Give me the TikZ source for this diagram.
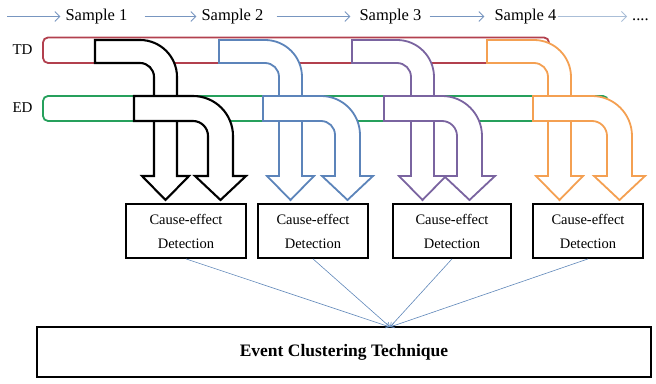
\documentclass[tikz,border=0pt]{standalone}
\usepackage{fontspec}
\setmainfont{Liberation Serif}
\usetikzlibrary{arrows.meta}
\definecolor{tdred}{RGB}{178,64,78}
\definecolor{edgreen}{RGB}{38,160,92}
\definecolor{ablue}{RGB}{92,132,186}
\definecolor{apurple}{RGB}{122,100,160}
\definecolor{aorange}{RGB}{244,160,82}
\definecolor{flowblue}{RGB}{120,150,192}
\definecolor{flowfaint}{RGB}{170,190,215}
\definecolor{linkblue}{RGB}{95,135,185}
\newcommand{\BentArrow}[8]{%
  \pgfmathsetmacro{\BAR}{#6+#3-#4}%
  \pgfmathsetmacro{\BAi}{#5+#6}%
  \pgfmathsetmacro{\BAo}{#5+\BAR}%
  \pgfmathsetmacro{\BAm}{#5+(#6+\BAR)/2}%
  \pgfmathsetmacro{\BAc}{#4-#6}%
  \filldraw[bentarrow, draw=#1, line width=#8] (#2,#3) -- (#5,#3)
    arc[start angle=90,end angle=0,radius=\BAR pt]
    -- (\BAo,207) -- (\BAo+#7,207) -- (\BAm,183) -- (\BAi-#7,207) -- (\BAi,207)
    -- (\BAi,\BAc) arc[start angle=0,end angle=90,radius=#6 pt]
    -- (#2,#4) -- cycle;%
}
\begin{document}
\begin{tikzpicture}[x=1pt,y=1pt,
  bentarrow/.style={fill=white, line join=miter},
  barbox/.style={rounded corners=5pt, line width=1.8pt, fill=white},
  samplelbl/.style={inner sep=0pt, font=\fontsize{16.5}{18}\selectfont, text height=12pt, text depth=4pt},
  sidelbl/.style={inner sep=0pt, font=\fontsize{15}{16}\selectfont},
  flow/.style={draw=flowblue, line width=0.8pt, -{Straight Barb[length=5pt,width=10pt]}},
  cebox/.style={draw=black, line width=1.8pt, minimum height=54pt, align=center, inner sep=0pt,
    font=\fontsize{14.5}{24}\selectfont},
  link/.style={draw=linkblue, line width=0.6pt, -{Straight Barb[length=4pt,width=5pt]}}
]
\useasboundingbox (0,0) rectangle (656,383);

% top flow
\coordinate (a0) at (7,366.5);
\node[samplelbl] (s1) at (96.5,366.5) {Sample 1};
\node[samplelbl] (s2) at (232.5,366.5) {Sample 2};
\node[samplelbl] (s3) at (390.5,366.5) {Sample 3};
\node[samplelbl] (s4) at (525.5,366.5) {Sample 4};
\node[samplelbl, anchor=west] (dots) at (632,366.5) {....};
\draw[flow, shorten >=5pt] (a0) -- (s1.west);
\draw[flow, shorten <=17pt, shorten >=5pt] (s1.east) -- (s2.west);
\draw[flow, shorten <=13pt, shorten >=9pt] (s2.east) -- (s3.west);
\draw[flow, shorten <=8pt, shorten >=10pt] (s3.east) -- (s4.west);
\draw[flow, draw=flowfaint, shorten <=1pt, shorten >=5pt] (s4.east) -- (dots.west);

% side labels
\node[sidelbl] (td) at (22.5,333) {TD};
\node[sidelbl] (ed) at (22.5,275) {ED};

% bars
\draw[barbox, draw=tdred] (43,345.5) rectangle (549,320);
\draw[barbox, draw=edgreen] (43,287) rectangle (608,262);

% bent arrows: color, start x, top Y, bottom Y, corner x, inner radius, head ext, line width
\BentArrow{black}{95}{343}{320}{140}{14}{12}{2.1pt}
\BentArrow{black}{134}{287}{262}{193}{15}{13}{2.1pt}
\BentArrow{ablue}{219}{343}{320}{265}{14}{12}{1.8pt}
\BentArrow{ablue}{263}{287}{262}{321}{14}{13}{1.8pt}
\BentArrow{apurple}{352}{343}{320}{397}{14}{12}{1.8pt}
\BentArrow{apurple}{384}{287}{262}{442}{15}{13}{1.8pt}
\BentArrow{aorange}{487}{343}{320}{534}{14}{12}{1.8pt}
\BentArrow{aorange}{533}{287}{262}{592}{15}{13}{1.8pt}

% cause-effect boxes
\node[cebox, minimum width=120pt] (c1) at (186,152) {Cause-effect\\Detection};
\node[cebox, minimum width=110pt] (c2) at (313,152) {Cause-effect\\Detection};
\node[cebox, minimum width=118pt] (c3) at (452,152) {Cause-effect\\Detection};
\node[cebox, minimum width=110pt] (c4) at (588,152) {Cause-effect\\Detection};

% event box
\node[draw=black, line width=1.8pt, minimum width=614pt, minimum height=50pt, inner sep=0pt,
  font=\fontsize{17.5}{19}\selectfont\bfseries] (ev) at (344,31) {Event Clustering Technique};
\coordinate (conv) at (390,56);

\draw[link] (c1.south) -- (conv);
\draw[link] (c2.south) -- (conv);
\draw[link] (c3.south) -- (conv);
\draw[link] (c4.south) -- (conv);
\end{tikzpicture}
\end{document}
